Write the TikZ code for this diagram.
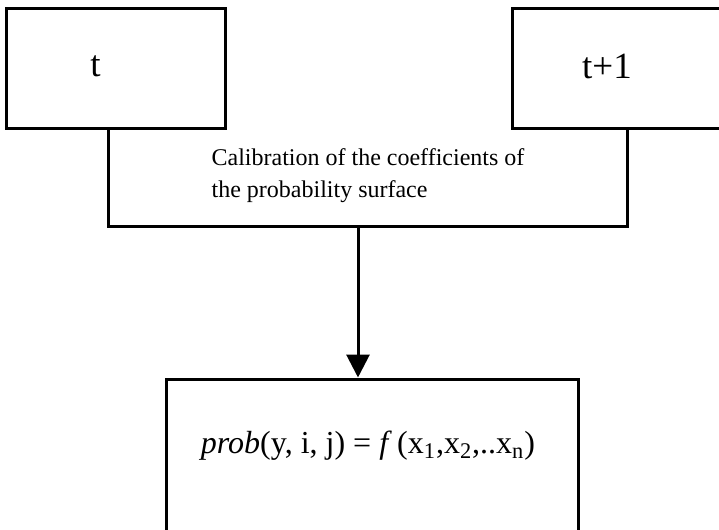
\documentclass[tikz,border=0pt]{standalone}
\usepackage{fontspec}
\setmainfont{Liberation Serif}
\usetikzlibrary{arrows.meta,positioning}

\begin{document}
\begin{tikzpicture}[x=0.5pt, y=-0.5pt,
  box/.style={draw, line width=1.5pt, fill=white, inner sep=0pt,
    minimum width=109.5pt, minimum height=60pt},
  lbl/.style={font=\fontsize{18.5}{22}\selectfont, inner sep=0pt},
  txt/.style={font=\fontsize{12}{16}\selectfont, align=left, inner sep=0pt},
  frm/.style={font=\fontsize{16}{19}\selectfont, inner sep=0pt},
  wire/.style={line width=1.5pt},
  >={Triangle[length=11.5pt, width=11.5pt]}]
\useasboundingbox (0,0) rectangle (719,530);
\clip (0,0) rectangle (719,530);
% calibration step, open at the top
\node[txt, minimum width=259pt, minimum height=50pt] (calib) at (368,176)
  {Calibration of the coefficients of\\the probability surface};
\draw[wire] (calib.north west) -- (calib.south west) -- (calib.south east) -- (calib.north east);
% the two time steps
\node[box] (tnow) at (115.5,68) {};
\node[box] (tnext) at (621.5,68) {};
\node[lbl] (tnowlbl) at ([xshift=-10pt, yshift=1pt]tnow.center) {t};
\node[lbl] (tnextlbl) at ([xshift=-7.25pt, yshift=1pt]tnext.center) {t+1};
% resulting surface
\node[box, minimum width=206pt, minimum height=91pt] (prob) at (372,470) {};
\node[frm] (problbl) at (368,446)
  {\textit{prob}(y, i, j) = \textit{f}\,(x\textsubscript{1},x\textsubscript{2},..x\textsubscript{n})};
\draw[wire, ->] ([xshift=-5pt]calib.south) -- ([xshift=-5pt]calib.south |- prob.north);
\end{tikzpicture}
\end{document}
